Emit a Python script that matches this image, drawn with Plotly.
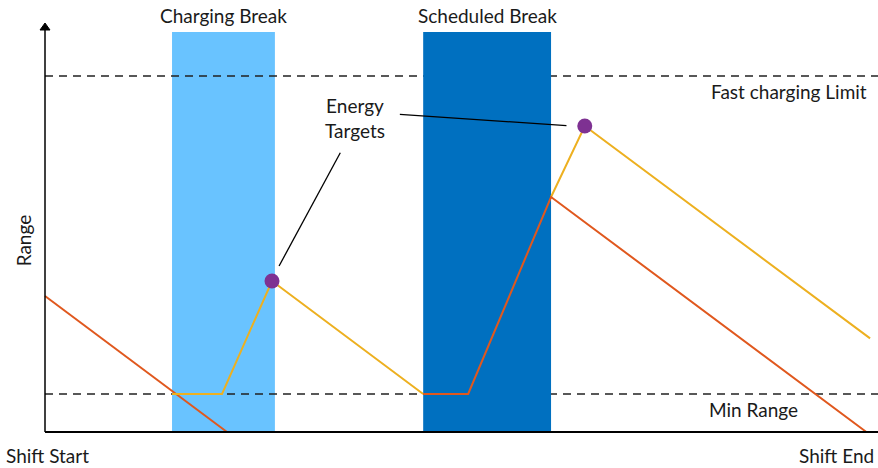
import plotly.graph_objects as go

# Time across the shift (0 = start, 100 = end) and remaining range (% units)
charge_break = (15.25, 27.6)
sched_break = (45.4, 60.75)
fast_limit = 89.0
min_range = 9.5

# Range without planned charging: drains, then recharges during the scheduled break
orange1_x = [0.0, 21.85]
orange1_y = [34.0, 0.0]
orange2_x = [45.4, 50.8, 60.75, 98.6]
orange2_y = [9.5, 9.5, 58.75, 0.0]

# Range with energy targets applied at each break
yellow1_x = [15.25, 21.25, 27.25, 45.4]
yellow1_y = [9.5, 9.5, 37.75, 9.5]
yellow2_x = [60.75, 64.8, 99.05]
yellow2_y = [58.75, 76.5, 23.4]

target_x = [27.25, 64.8]
target_y = [37.75, 76.5]

ORANGE = "#E0581E"
YELLOW = "#EDB020"
LIGHT_BLUE = "#69C3FF"
DARK_BLUE = "#0070C0"
PURPLE = "#7E3192"
FONT = "Lato"
FONT_SIZE = 19

PX_X = 100 / 833  # data units per pixel horizontally
PX_Y = 0.25       # data units per pixel vertically

fig = go.Figure()

for xs, ys, col in [(orange1_x, orange1_y, ORANGE), (yellow1_x, yellow1_y, YELLOW),
                    (yellow2_x, yellow2_y, YELLOW), (orange2_x, orange2_y, ORANGE)]:
    fig.add_trace(go.Scatter(x=xs, y=ys, mode="lines",
                             line=dict(color=col, width=2), hoverinfo="skip"))

fig.add_trace(go.Scatter(x=target_x, y=target_y, mode="markers",
                         marker=dict(color=PURPLE, size=15), hoverinfo="skip"))

arrow_base = 100.5
arrow_tip = arrow_base + 7 * PX_Y
shapes = [
    dict(type="rect", x0=charge_break[0], x1=charge_break[1], y0=0, y1=100,
         fillcolor=LIGHT_BLUE, line_width=0, layer="below"),
    dict(type="line", x0=0, x1=100, y0=fast_limit, y1=fast_limit,
         line=dict(color="#222222", width=1.5, dash="8px,6px"), layer="below"),
    dict(type="line", x0=0, x1=100, y0=min_range, y1=min_range,
         line=dict(color="#222222", width=1.5, dash="8px,6px"), layer="below"),
    dict(type="rect", x0=sched_break[0], x1=sched_break[1], y0=0, y1=100,
         fillcolor=DARK_BLUE, line_width=0, layer="below"),
    # axes
    dict(type="line", x0=0, x1=100, y0=0, y1=0, line=dict(color="black", width=2), layer="above"),
    dict(type="line", x0=0, x1=0, y0=0, y1=arrow_base, line=dict(color="black", width=1.5), layer="above"),
    dict(type="path",
         path=f"M {-5 * PX_X} {arrow_base} L 0 {arrow_tip} L {5 * PX_X} {arrow_base} Z",
         fillcolor="black", line=dict(color="black", width=1), layer="above"),
    # pointers to the energy targets
    dict(type="line", x0=42.6, y0=79.4, x1=62.6, y1=76.6,
         line=dict(color="black", width=1.3), layer="above"),
    dict(type="line", x0=35.45, y0=69.8, x1=28.1, y1=41.5,
         line=dict(color="black", width=1.3), layer="above"),
]


def label(text, x, y, xanchor="center", **kw):
    return dict(text=text, x=x, y=y, xref="x", yref="y", showarrow=False,
                xanchor=xanchor, yanchor="middle",
                font=dict(family=FONT, size=FONT_SIZE, color="#1a1a1a"), **kw)


annotations = [
    label("Charging Break", (charge_break[0] + charge_break[1]) / 2, 104.2),
    label("Scheduled Break", (sched_break[0] + sched_break[1]) / 2, 104.2),
    label("Fast charging Limit", 98.9, 85.2, xanchor="right"),
    label("Min Range", 85.0, 5.6),
    label("Shift Start", -4.9, -5.8, xanchor="left"),
    label("Shift End", 99.8, -5.8, xanchor="right"),
    label("Energy<br>Targets", 37.2, 78.6),
    label("Range", -2.6, 48.0, textangle=-90),
]

fig.update_layout(
    width=878, height=468,
    margin=dict(l=0, r=0, t=0, b=0),
    paper_bgcolor="white", plot_bgcolor="white",
    showlegend=False,
    shapes=shapes, annotations=annotations,
    xaxis=dict(range=[-45 * PX_X, 100], visible=False, fixedrange=True),
    yaxis=dict(range=[-9, 108], visible=False, fixedrange=True),
)

fig.write_html("out.html")
